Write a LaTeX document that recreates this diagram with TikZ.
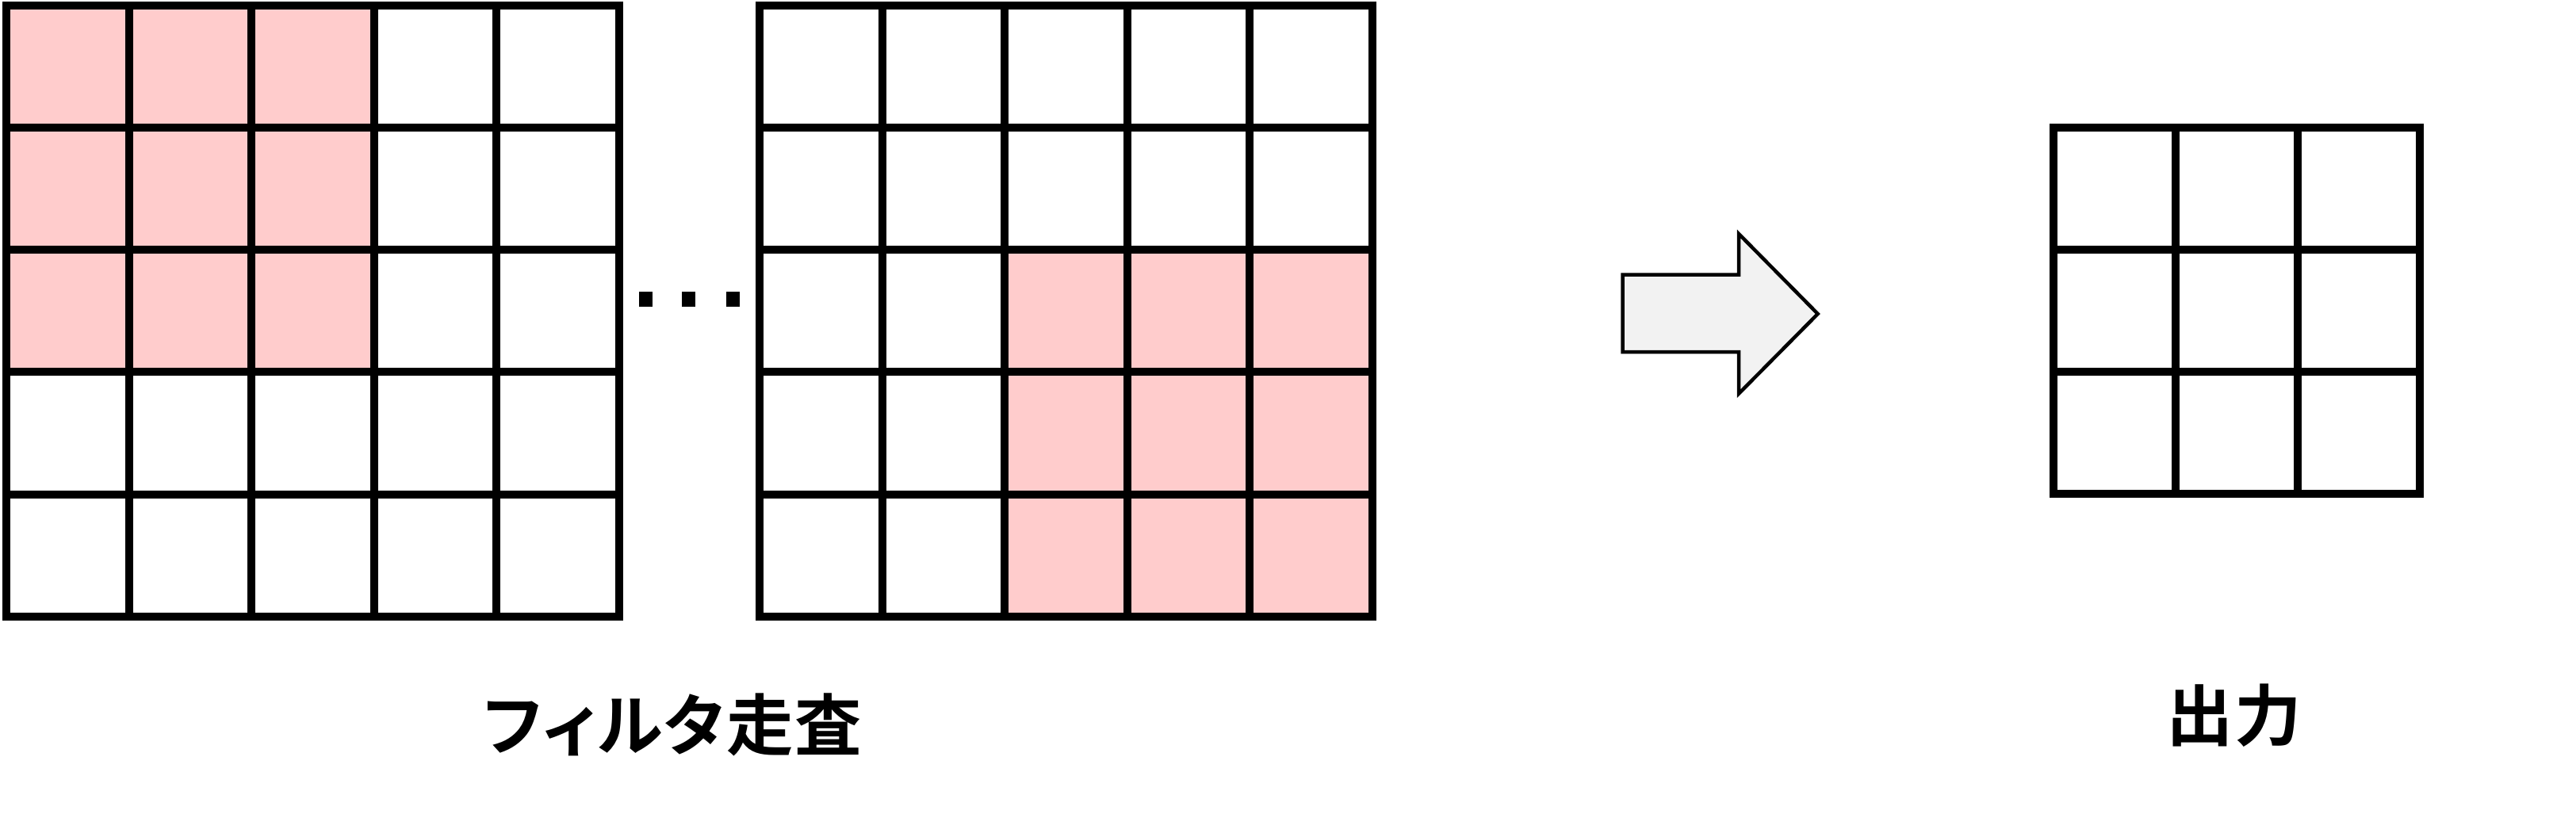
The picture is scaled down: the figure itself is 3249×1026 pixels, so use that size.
\documentclass[tikz,border=0pt]{standalone}
\usepackage{fontspec}
\usepackage{tikz}
\newfontfamily\jpfont{Noto Sans CJK JP}[UprightFont=* Bold, RawFeature=+palt, LetterSpace=2]
\definecolor{cellpink}{HTML}{FFCCCC}
\definecolor{arrowgray}{HTML}{F2F2F2}
\tikzset{
  gridline/.style={line width=0.1cm},
  labeltext/.style={font=\jpfont\fontsize{24pt}{28pt}\selectfont, inner sep=0pt},
  blockarrow/.style={line width=0.045cm, fill=arrowgray}
}
\newcommand{\cellW}[2]{ \draw[gridline] ( #1 , #2 ) rectangle ( #1 + 1 , #2 + 1 );}
\newcommand{\cellP}[2]{ \filldraw[gridline, fill=cellpink] ( #1 , #2 ) rectangle ( #1 + 1 , #2 + 1 );}

\begin{document}
\begin{tikzpicture}[x=0.01cm, y=0.01cm]
\useasboundingbox (0,0) rectangle (3249,1026);
% input, first filter position
\begin{scope}[xshift=0.08cm, yshift=2.48cm, x=1.545cm, y=1.541cm]
% row1
\cellW{0}{0} \cellW{1}{0} \cellW{2}{0} \cellW{3}{0} \cellW{4}{0}
% row2
\cellW{0}{1} \cellW{1}{1} \cellW{2}{1} \cellW{3}{1} \cellW{4}{1}
% row3
\cellP{0}{2} \cellP{1}{2} \cellP{2}{2} \cellW{3}{2} \cellW{4}{2}
% row4
\cellP{0}{3} \cellP{1}{3} \cellP{2}{3} \cellW{3}{3} \cellW{4}{3}
% row5
\cellP{0}{4} \cellP{1}{4} \cellP{2}{4} \cellW{3}{4} \cellW{4}{4}
\end{scope}
% dots
\fill (805.5,639) rectangle ++(17,19);
\fill (860,639) rectangle ++(17,19);
\fill (915.5,639) rectangle ++(17,19);
% input, last filter position
\begin{scope}[xshift=9.575cm, yshift=2.48cm, x=1.545cm, y=1.541cm]
% row1
\cellW{0}{0} \cellW{1}{0} \cellP{2}{0} \cellP{3}{0} \cellP{4}{0}
% row2
\cellW{0}{1} \cellW{1}{1} \cellP{2}{1} \cellP{3}{1} \cellP{4}{1}
% row3
\cellW{0}{2} \cellW{1}{2} \cellP{2}{2} \cellP{3}{2} \cellP{4}{2}
% row4
\cellW{0}{3} \cellW{1}{3} \cellW{2}{3} \cellW{3}{3} \cellW{4}{3}
% row5
\cellW{0}{4} \cellW{1}{4} \cellW{2}{4} \cellW{3}{4} \cellW{4}{4}
\end{scope}
% arrow
\draw[blockarrow] (2046.7,679.3) -- (2193,679.3) -- (2193,731) -- (2292.7,630)
  -- (2193,529.3) -- (2193,582) -- (2046.7,582) -- cycle;
% output
\begin{scope}[xshift=25.883cm, yshift=4.027cm, x=1.541cm, y=1.539cm]
% row1
\cellW{0}{0} \cellW{1}{0} \cellW{2}{0}
% row2
\cellW{0}{1} \cellW{1}{1} \cellW{2}{1}
% row3
\cellW{0}{2} \cellW{1}{2} \cellW{2}{2}
\end{scope}
% labels
\node[labeltext] (scanlabel) at (848,112) {フィルタ走査};
\node[labeltext] (outlabel) at (2817.5,123) {出力};
\end{tikzpicture}
\end{document}
